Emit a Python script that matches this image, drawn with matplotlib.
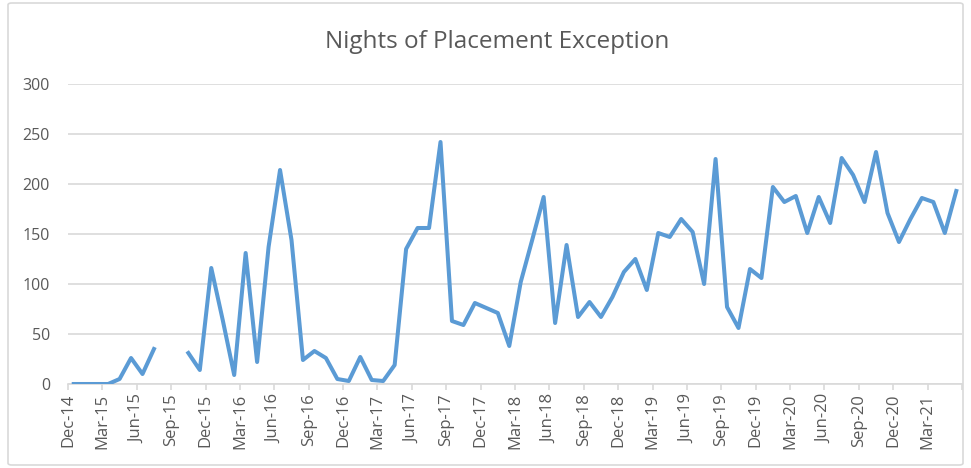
import numpy as np
import pandas as pd
import matplotlib
matplotlib.use("Agg")
from matplotlib import pyplot as plt
from matplotlib.patches import FancyBboxPatch

# monthly values Dec-14 .. May-21 (None = no data)
start_month = "2014-12"
nights = [0, 0, 0, 0, 5, 26, 10, 35, None, None,
          31, 14, 116, 64, 9, 131, 22, 137, 214, 144,
          24, 33, 26, 5, 3, 27, 4, 3, 19, 135,
          156, 156, 242, 63, 59, 81, 76, 71, 38, 102,
          144, 187, 61, 139, 67, 82, 67, 87, 112, 125,
          94, 151, 147, 165, 152, 100, 225, 77, 56, 115,
          106, 197, 182, 188, 151, 187, 161, 226, 209, 182,
          232, 171, 142, 165, 186, 182, 151, 193]

months = pd.date_range(start_month, periods=len(nights), freq="MS")
tick_labels = [m.strftime("%b-%y") for m in months[::3]]

plt.rcParams['font.family'] = ['Open Sans', 'DejaVu Sans']
TEXT = "#595959"
GRID = "#d9d9d9"

fig = plt.figure(figsize=(9.71, 4.68), dpi=100)
ax = fig.add_axes([68 / 971, 1 - 384 / 468, (962 - 68) / 971, 300 / 468])

# outer chart border
fig.patches.append(FancyBboxPatch((8 / 971, 3 / 468), 955 / 971, 462 / 468,
                                  boxstyle="round,pad=0,rounding_size=0.004",
                                  transform=fig.transFigure, fill=False,
                                  edgecolor=GRID, linewidth=1.2))

y = np.array([np.nan if v is None else v for v in nights], dtype=float)
x = np.arange(len(y)) + 0.5
ax.plot(x, y, color="#5B9BD5", linewidth=2.9, solid_joinstyle="round", zorder=3)

ax.set_xlim(0, len(y))
ax.set_ylim(0, 300)
ax.set_yticks(range(0, 301, 50))
ax.yaxis.grid(True, color=GRID, linewidth=1.2)
ax.set_axisbelow(True)

xt = np.arange(0, len(y) + 1, 3)
ax.set_xticks(xt)
ax.set_xticklabels(tick_labels + [""] * (len(xt) - len(tick_labels)), rotation=90)

for s in ["top", "right", "left"]:
    ax.spines[s].set_visible(False)
ax.spines["bottom"].set_color(GRID)
ax.spines["bottom"].set_linewidth(1.2)
ax.tick_params(axis="x", colors=GRID, length=4, width=1.2, labelcolor=TEXT,
               labelsize=12, pad=3)
ax.tick_params(axis="y", length=0, labelcolor=TEXT, labelsize=11.5, pad=13)

fig.text(497 / 971, 1 - 42 / 468, "Nights of Placement Exception", ha="center",
         va="center", fontsize=17.5, color=TEXT)

fig.savefig("out.png", dpi=100)
